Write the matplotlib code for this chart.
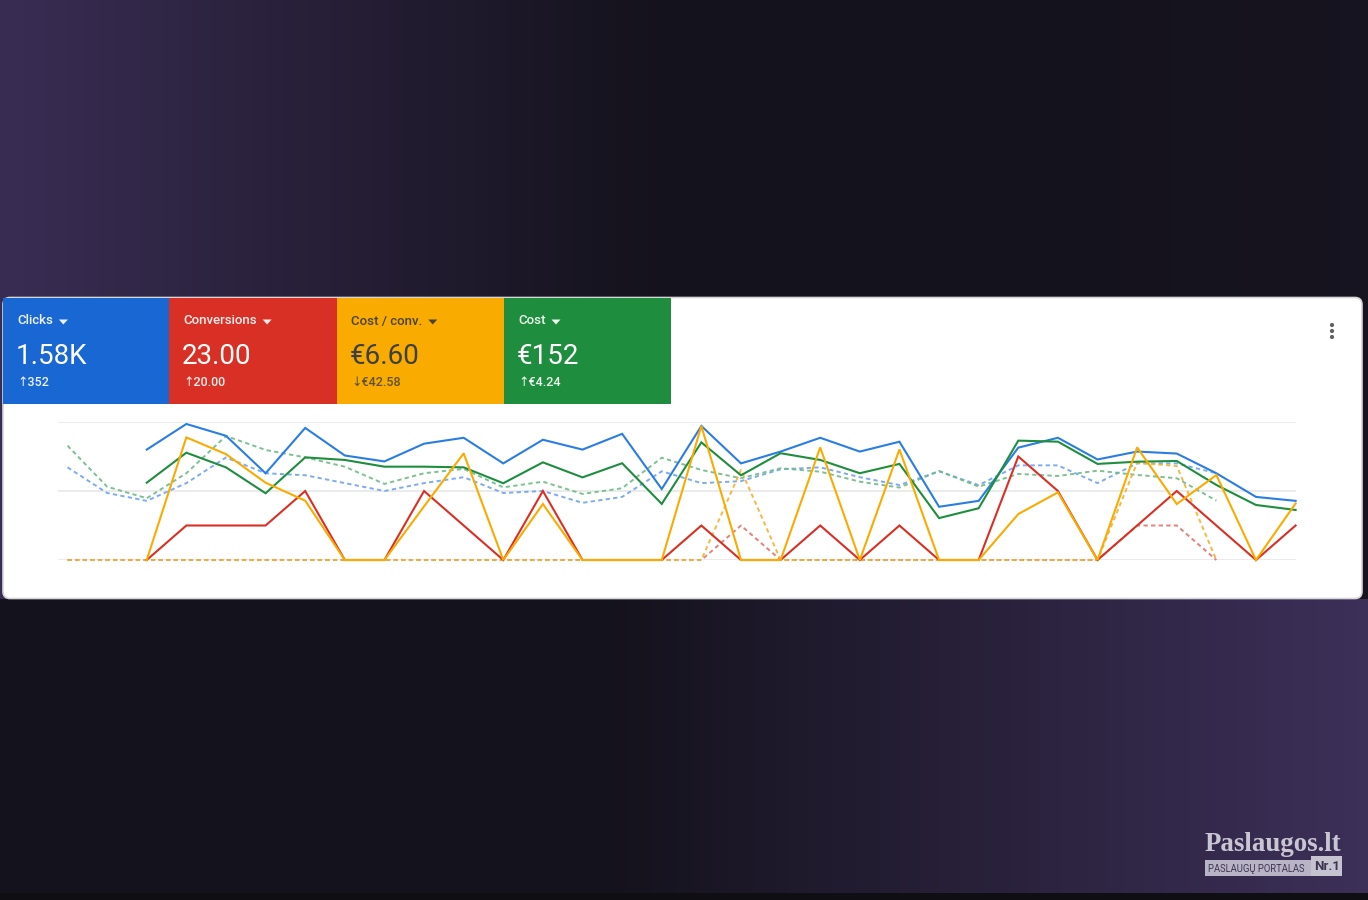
import numpy as np
import matplotlib
matplotlib.use('Agg')
import matplotlib.pyplot as plt
from matplotlib.patches import Rectangle, FancyBboxPatch, Polygon, Circle
from matplotlib.colors import to_rgb


## data (one point per day)
daysNow = list(range(2, 32))
daysPrev = list(range(0, 30))

clicks = [56, 69, 63, 44, 67, 53, 50, 59, 62, 49, 61, 56, 64, 36, 68,
	49, 55, 62, 55, 60, 27, 30, 57, 62, 51, 55, 54, 44, 32, 30]
clicksPrev = [47, 34, 30, 39, 52, 44, 43, 39, 35, 39, 42, 34, 35, 29, 32,
	45, 39, 40, 46, 47, 42, 38, 45, 38, 48, 48, 39, 49, 49, 44]

conversions = [0, 1, 1, 1, 2, 0, 0, 2, 1, 0, 2, 0, 0, 0, 1,
	0, 0, 1, 0, 1, 0, 0, 3, 2, 0, 1, 2, 1, 0, 1]
conversionsPrev = [0, 0, 0, 0, 0, 0, 0, 0, 0, 0, 0, 0, 0, 0, 0,
	0, 0, 1, 0, 0, 0, 0, 0, 0, 0, 0, 0, 1, 1, 0]

costPerConv = [0, 6.22, 5.37, 3.92, 3.01, 0, 0, 2.72, 5.41, 0, 2.84, 0, 0, 0, 6.80,
	0, 0, 5.71, 0, 5.61, 0, 0, 2.33, 3.43, 0, 5.71, 2.84, 4.31, 0, 2.87]
costPerConvPrev = [0, 0, 0, 0, 0, 0, 0, 0, 0, 0, 0, 0, 0, 0, 0,
	0, 0, 4.57, 0, 0, 0, 0, 0, 0, 0, 0, 0, 4.93, 4.77, 0]

cost = [4.48, 6.22, 5.37, 3.87, 5.95, 5.80, 5.41, 5.41, 5.37, 4.45, 5.66, 4.79, 5.61, 3.25, 6.82,
	4.91, 6.19, 5.80, 5.03, 5.57, 2.43, 3.00, 6.92, 6.86, 5.57, 5.70, 5.74, 4.35, 3.19, 2.90]
costPrev = [6.63, 4.25, 3.58, 5.03, 7.19, 6.38, 5.95, 5.41, 4.41, 5.03, 5.28, 4.21, 4.54, 3.83, 4.16,
	5.93, 5.22, 4.74, 5.32, 5.12, 4.54, 4.20, 5.16, 4.25, 4.99, 4.87, 5.18, 4.93, 4.74, 3.44]

tileLabels = ['Clicks', 'Conversions', 'Cost / conv.', 'Cost']
tileValues = ['1.58K', '23.00', '€6.60', '€152']
tileChanges = ['↑352', '↑20.00', '↓€42.58', '↑€4.24']
axisMax = [70, 4, 7, 8]



## figure in pixel units
W, H = 1368, 900
fig = plt.figure(figsize=(W / 100, H / 100), dpi=100)
bg = fig.add_axes([0, 0, 1, 1])
bg.set_xlim(0, W)
bg.set_ylim(H, 0)
bg.axis('off')

## dark purple backdrop
purple = np.array(to_rgb('#3a2d54'))
purple2 = np.array(to_rgb('#3d3059'))
dark = np.array(to_rgb('#14121c'))
xx, yy = np.meshgrid(np.arange(W), np.arange(H))
fTop = np.clip(1 - xx / 680, 0, 1) ** 1.1 + 0.08 * np.clip((xx - 1000) / 368, 0, 1)
fBot = np.clip((xx - 600) / 768, 0, 1) ** 1.0
img = np.where((yy < 599)[..., None],
	dark + (purple - dark) * fTop[..., None],
	dark + (purple2 - dark) * fBot[..., None])
img[yy >= 893] = to_rgb('#0f0e13')
bg.imshow(img, extent=[0, W, H, 0], aspect='auto', zorder=0)

## card
bg.add_patch(FancyBboxPatch((3, 297.5), 1359, 301, boxstyle='round,pad=0,rounding_size=7',
	facecolor='white', edgecolor='#d6d6d9', lw=1.2, zorder=1))

## metric tiles
fontList = ['Roboto', 'DejaVu Sans']
tileColors = ['#1967d2', '#d93025', '#f9ab00', '#1e8e3e']
tileX = [3, 169, 337, 504, 671]
labelColors = ['#eef3fd', '#fdeeed', '#4a4437', '#eef7f0']
valueColors = ['white', 'white', '#3c4043', 'white']
changeColors = ['#eef3fd', '#fdeeed', '#5e5234', '#eef7f0']
renderer = fig.canvas.get_renderer()
for i in range(4):
	bg.add_patch(Rectangle((tileX[i], 298), tileX[i + 1] - tileX[i], 105.5,
		facecolor=tileColors[i], edgecolor='none', zorder=2))
	x0 = tileX[i] + 14
	lbl = bg.text(x0, 321, tileLabels[i], color=labelColors[i], fontsize=9.5,
		family=fontList, weight='medium', va='center', ha='left', zorder=3)
	bg.text(x0 - 1, 357, tileValues[i], color=valueColors[i], fontsize=20,
		family=fontList, va='center', ha='left', zorder=3)
	bg.text(x0, 383, tileChanges[i], color=changeColors[i], fontsize=9,
		family=fontList, weight='medium', va='center', ha='left', zorder=3)
	## dropdown triangle right of the label
	bb = lbl.get_window_extent(renderer)
	tx = bb.x1 * W / fig.bbox.width
	bg.add_patch(Polygon([(tx + 6, 319.5), (tx + 15, 319.5), (tx + 10.5, 324.5)],
		closed=True, facecolor=labelColors[i], edgecolor='none', zorder=3))

## kebab menu
for cy in (325, 331, 337):
	bg.add_patch(Circle((1332, cy), 2.1, facecolor='#5f6368', edgecolor='none', zorder=3))

## watermark
logo = bg.text(1205, 851, 'Paslaugos.lt', color='#c9c6d3', fontsize=24,
	family=['Liberation Serif', 'DejaVu Serif'], weight='bold',
	va='baseline', ha='left', zorder=3)
lw_ = logo.get_window_extent(renderer).width
logo.set_fontsize(24 * 137 / lw_)
bg.add_patch(Rectangle((1205, 860), 106, 15.5, facecolor='#b8b4c5', edgecolor='none', zorder=3))
bg.add_patch(Rectangle((1311, 856), 31, 19.5, facecolor='#c6c3d1', edgecolor='none', zorder=3))
tag = bg.text(1208, 868.5, 'PASLAUGŲ PORTALAS', color='#3f3653', fontsize=7,
	family=fontList, va='center', ha='left', zorder=4)
tw = tag.get_window_extent(renderer).width
tag.set_fontsize(7 * 98 / tw)
bg.text(1314, 867, 'Nr.1', color='#3f3653', fontsize=9.5, weight='bold',
	family=fontList, va='center', ha='left', zorder=4)



## line chart, one stacked axes per series so each keeps its own scale
chartRect = [58 / W, (H - 560) / H, (1296 - 58) / W, 138 / H]
xLim = (-0.24, 31.01)

def overlay(ymax):
	a = fig.add_axes(chartRect)
	a.set_xlim(*xLim)
	a.set_ylim(0, ymax)
	a.axis('off')
	return a

grid = overlay(2)
for g in (0, 1, 2):
	grid.axhline(g, color='#e8e8e8', lw=1.2, zorder=1)

lineColors = ['#2a7de1', '#1e8e3e', '#d93025', '#f9ab00']
dashColors = ['#6fa2ef', '#6fba85', '#e2736a', '#f5b02e']
seriesNow = [clicks, cost, conversions, costPerConv]
seriesPrev = [clicksPrev, costPrev, conversionsPrev, costPerConvPrev]
seriesMax = [axisMax[0], axisMax[3], axisMax[1], axisMax[2]]

for k in range(4):
	a = overlay(seriesMax[k])
	a.plot(daysPrev, seriesPrev[k], color=dashColors[k], lw=1.4,
		linestyle=(0, (2.2, 1.7)), alpha=0.9, clip_on=False)
for k in range(4):
	a = overlay(seriesMax[k])
	a.plot(daysNow, seriesNow[k], color=lineColors[k], lw=1.5, clip_on=False,
		solid_joinstyle='miter')

fig.savefig('out.png', dpi=100)
